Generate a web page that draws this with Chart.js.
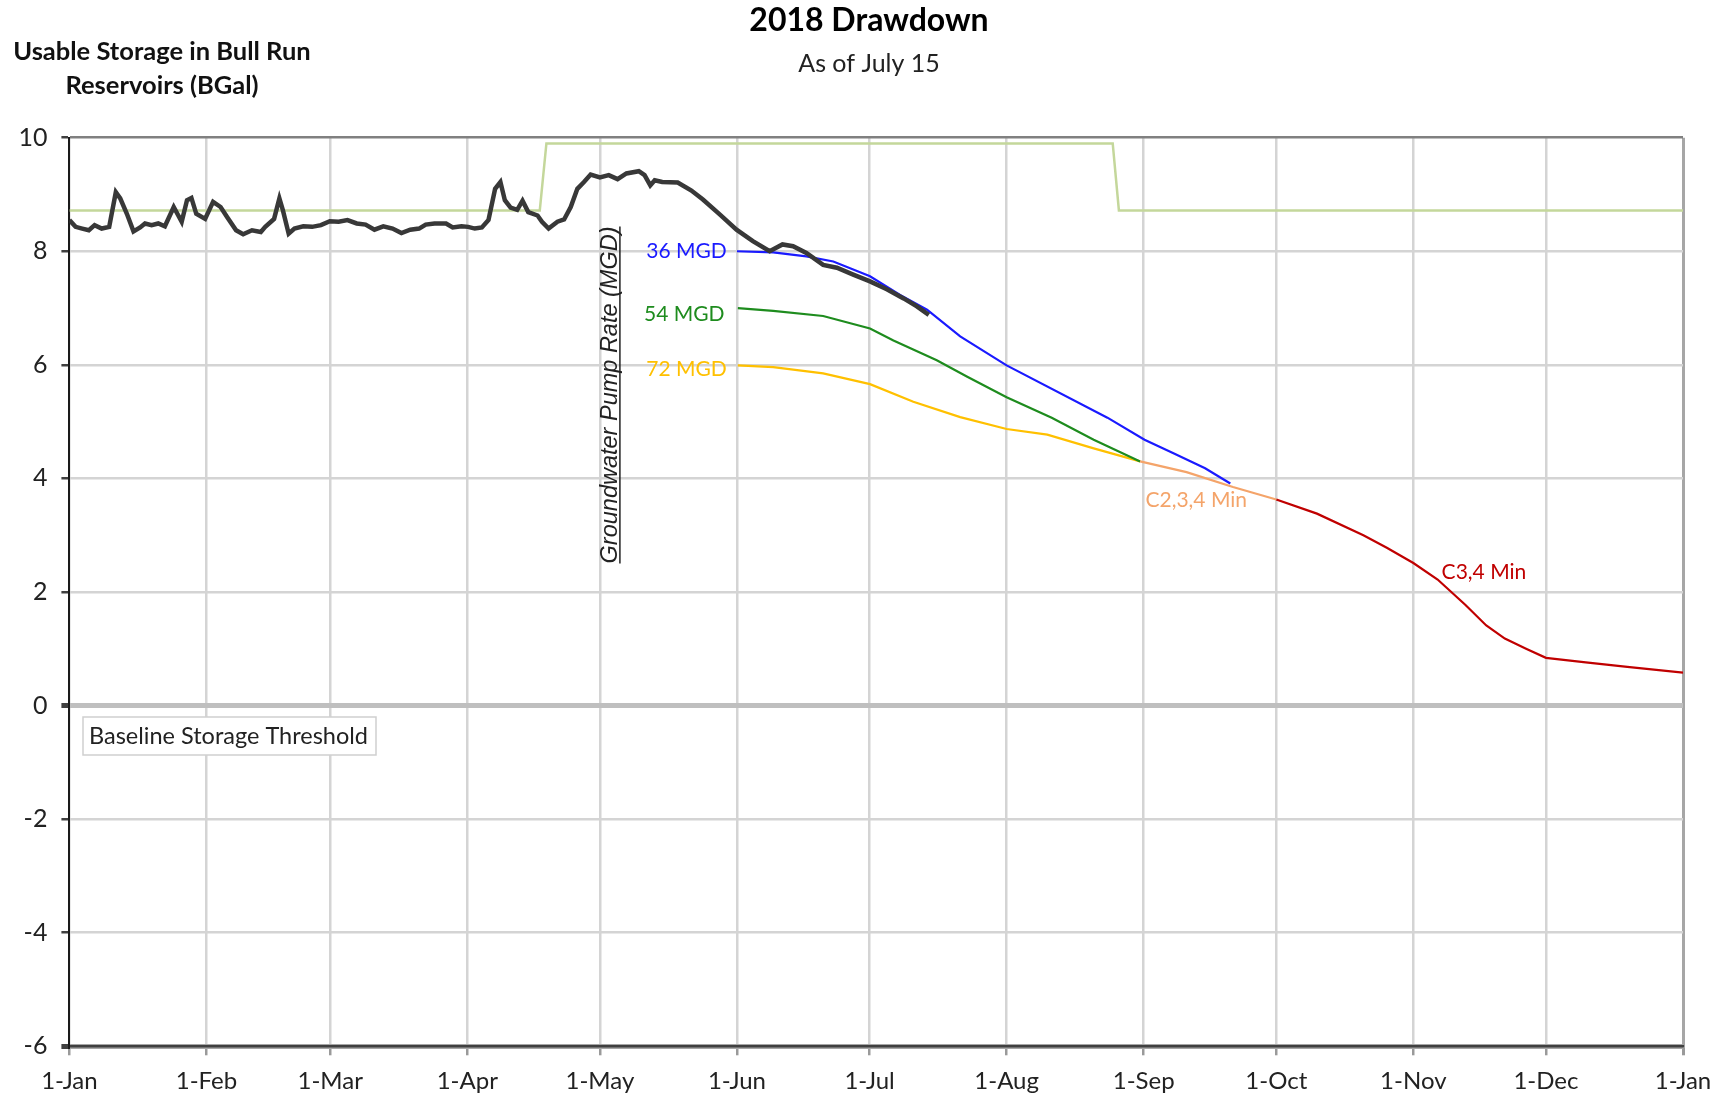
<!DOCTYPE html>
<html lang="en">
<head>
    <meta charset="UTF-8">
    <title>2018 Drawdown</title>
    <script src="https://cdn.jsdelivr.net/npm/chart.js"></script>
    <style>
        html, body { margin: 0; padding: 0; background: #fff; }
    </style>
</head>
<body>
    <canvas id="chart" width="1727" height="1100"></canvas>

    <script>
        // x axis: day of year 2018, ticks at the first of each month
        const monthDays = [0, 31, 59, 90, 120, 151, 181, 212, 243, 273, 304, 334, 365];
        const monthLabels = ['1-Jan', '1-Feb', '1-Mar', '1-Apr', '1-May', '1-Jun', '1-Jul',
                             '1-Aug', '1-Sep', '1-Oct', '1-Nov', '1-Dec', '1-Jan'];
        const yTicks = [-6, -4, -2, 0, 2, 4, 6, 8, 10];

        // Baseline storage threshold (BGal)
        const thresholdDays = [0, 106.4, 107.9, 236, 237.4, 365];
        const thresholdValues = [8.72, 8.72, 9.9, 9.9, 8.72, 8.72];

        // Actual usable storage up to July 15
        const observedDays = [0, 1.4, 2.9, 4.4, 5.7, 7.3, 9.0, 10.5, 11.5, 13.0, 14.5, 16.0, 17.1, 18.6, 20.1,
            21.6, 23.6, 25.4, 26.6, 27.6, 28.7, 30.7, 32.5, 34.2, 35.7, 37.7, 39.3, 41.3, 43.3, 44.3,
            46.3, 47.5, 48.3, 49.6, 50.9, 52.9, 54.9, 56.9, 58.9, 60.9, 62.9, 65.0, 67.0, 69.0, 71.0,
            73.1, 75.1, 77.1, 79.1, 80.6, 82.6, 85.2, 86.7, 88.7, 90.2, 91.7, 93.3, 94.8, 96.3, 97.5,
            98.5, 99.8, 101.3, 102.5, 103.8, 105.9, 106.9, 108.4, 110.4, 111.9, 113.4, 114.9, 116.4,
            117.9, 120.0, 122.0, 124.0, 126.0, 128.8, 130.1, 131.4, 132.4, 134.1, 137.6, 140.7, 143.3,
            147.1, 150.9, 154.6, 158.4, 161.3, 163.7, 166.7, 170.5, 173.6, 177.3, 181.1, 184.9, 188.7,
            191.7, 194.4];
        const observedValues = [8.55, 8.43, 8.40, 8.37, 8.46, 8.40, 8.43, 9.04, 8.93, 8.66, 8.35, 8.42, 8.49, 8.46, 8.49,
            8.44, 8.78, 8.52, 8.90, 8.94, 8.66, 8.57, 8.87, 8.78, 8.60, 8.37, 8.30, 8.37, 8.34, 8.43,
            8.57, 8.93, 8.72, 8.31, 8.40, 8.44, 8.43, 8.46, 8.53, 8.52, 8.55, 8.49, 8.47, 8.38, 8.44,
            8.40, 8.32, 8.38, 8.40, 8.47, 8.49, 8.49, 8.42, 8.44, 8.43, 8.40, 8.42, 8.55, 9.10, 9.22,
            8.90, 8.77, 8.73, 8.89, 8.69, 8.63, 8.52, 8.40, 8.52, 8.56, 8.78, 9.10, 9.22,
            9.35, 9.30, 9.34, 9.27, 9.37, 9.41, 9.34, 9.16, 9.25, 9.22, 9.21, 9.07, 8.91,
            8.65, 8.38, 8.18, 8.00, 8.12, 8.09, 7.97, 7.76, 7.71, 7.59, 7.47, 7.33, 7.17,
            7.03, 6.88];

        // Projections by groundwater pump rate
        const pump36Days = [151, 159.2, 166.7, 172.8, 181.1, 187.9, 194, 201.5, 212, 234.8, 243.2, 249.5, 256.9, 262.6];
        const pump36Values = [8.0, 7.98, 7.91, 7.82, 7.56, 7.23, 6.97, 6.50, 5.99, 5.07, 4.68, 4.45, 4.18, 3.91];

        const pump54Days = [151.2, 159.2, 170.5, 181.1, 186.4, 196.2, 203.1, 212, 222.2, 231.7, 242.2];
        const pump54Values = [7.0, 6.95, 6.86, 6.64, 6.43, 6.08, 5.79, 5.43, 5.07, 4.68, 4.30];

        const pump72Days = [151.2, 159.2, 170.5, 181.1, 190.9, 201.5, 212, 221.2, 231.7, 242.2];
        const pump72Values = [5.99, 5.96, 5.85, 5.66, 5.35, 5.08, 4.87, 4.77, 4.53, 4.30];

        const c234Days = [242.2, 252.7, 263.2, 273];
        const c234Values = [4.30, 4.11, 3.85, 3.63];

        const c34Days = [273, 282.2, 292.7, 298, 304, 309.5, 315.8, 320.5, 324.7, 329.5, 334, 343, 352.4, 365];
        const c34Values = [3.63, 3.38, 3.0, 2.78, 2.51, 2.22, 1.77, 1.41, 1.18, 1.0, 0.84, 0.76, 0.68, 0.58];

        const FONT = 'Lato, "Open Sans", sans-serif';

        function points(days, values) {
            return days.map((d, i) => ({ x: d, y: values[i] }));
        }

        function series(days, values, color, width) {
            return {
                data: points(days, values),
                borderColor: color,
                borderWidth: width,
                pointRadius: 0,
                tension: 0,
                fill: false
            };
        }

        // text on the chart: titles, line labels, the threshold box
        const notesPlugin = {
            id: 'notes',
            afterDraw(chart) {
                const ctx = chart.ctx;
                const x = chart.scales.x;
                const y = chart.scales.y;
                ctx.save();

                ctx.textAlign = 'center';
                ctx.textBaseline = 'middle';
                ctx.fillStyle = '#000';
                ctx.font = 'bold 32px ' + FONT;
                ctx.fillText('2018 Drawdown', 869, 21);
                ctx.fillStyle = '#222';
                ctx.font = '25px ' + FONT;
                ctx.fillText('As of July 15', 869, 64);

                ctx.fillStyle = '#111';
                ctx.font = 'bold 25.5px ' + FONT;
                ctx.fillText('Usable Storage in Bull Run', 162, 52);
                ctx.fillText('Reservoirs (BGal)', 162, 86);

                // series labels
                ctx.font = '21px ' + FONT;
                ctx.textAlign = 'right';
                ctx.fillStyle = '#1a1aff';
                ctx.fillText('36 MGD', x.getPixelForValue(148.7), y.getPixelForValue(8.0));
                ctx.fillStyle = '#1e8c1e';
                ctx.fillText('54 MGD', x.getPixelForValue(148.2), y.getPixelForValue(6.89));
                ctx.fillStyle = '#ffc000';
                ctx.fillText('72 MGD', x.getPixelForValue(148.7), y.getPixelForValue(5.92));
                ctx.textAlign = 'left';
                ctx.fillStyle = '#f4a46a';
                ctx.fillText('C2,3,4 Min', x.getPixelForValue(243.4), y.getPixelForValue(3.62));
                ctx.fillStyle = '#c00000';
                ctx.fillText('C3,4 Min', x.getPixelForValue(310.4), y.getPixelForValue(2.35));

                // rotated pump-rate label, underlined
                const rx = x.getPixelForValue(124.3);
                const ry = y.getPixelForValue(5.47);
                ctx.translate(rx, ry);
                ctx.rotate(-Math.PI / 2);
                ctx.font = 'italic 23.5px "Liberation Sans", Arial, sans-serif';
                ctx.fillStyle = '#222';
                ctx.textAlign = 'center';
                ctx.textBaseline = 'alphabetic';
                const label = 'Groundwater Pump Rate (MGD)';
                const w = ctx.measureText(label).width;
                ctx.fillText(label, 0, -2);
                ctx.strokeStyle = '#222';
                ctx.lineWidth = 1.5;
                ctx.beginPath();
                ctx.moveTo(-w / 2, 1);
                ctx.lineTo(w / 2, 1);
                ctx.stroke();
                ctx.setTransform(1, 0, 0, 1, 0, 0);

                // threshold legend box
                ctx.fillStyle = '#fff';
                ctx.fillRect(83, 717, 293, 38);
                ctx.strokeStyle = '#cfcfcf';
                ctx.lineWidth = 1.5;
                ctx.strokeRect(83, 717, 293, 38);
                ctx.fillStyle = '#222';
                ctx.font = '23.5px ' + FONT;
                ctx.textAlign = 'left';
                ctx.textBaseline = 'middle';
                ctx.fillText('Baseline Storage Threshold', 89, 736);

                ctx.restore();
            }
        };

        const ctx = document.getElementById('chart').getContext('2d');
        new Chart(ctx, {
            type: 'line',
            data: {
                datasets: [
                    series(observedDays, observedValues, '#383838', 4.5),
                    series(c234Days, c234Values, '#f4a46a', 2.2),
                    series(pump36Days, pump36Values, '#1a1aff', 2.2),
                    series(pump54Days, pump54Values, '#1e8c1e', 2.2),
                    series(pump72Days, pump72Values, '#ffc000', 2.2),
                    series(c34Days, c34Values, '#c00000', 2.2),
                    series(thresholdDays, thresholdValues, '#c4d79b', 2.5)
                ]
            },
            options: {
                responsive: false,
                animation: false,
                layout: { padding: { top: 137.7, right: 44, left: 0, bottom: 0 } },
                plugins: {
                    legend: { display: false },
                    tooltip: { enabled: false },
                    title: { display: false }
                },
                scales: {
                    x: {
                        type: 'linear',
                        min: 0,
                        max: 365,
                        afterBuildTicks: s => { s.ticks = monthDays.map(v => ({ value: v })); },
                        afterFit: s => { s.height = 53.7; },
                        ticks: {
                            callback: (v, i) => monthLabels[i],
                            autoSkip: false,
                            maxRotation: 0,
                            padding: 12,
                            color: '#222',
                            font: { family: FONT, size: 24 }
                        },
                        grid: {
                            color: c => (c.tick && c.tick.value === 365) ? '#a6a6a6' : '#d4d4d4',
                            lineWidth: c => (c.tick && c.tick.value === 365) ? 3 : 2.5,
                            tickLength: 9,
                            tickColor: '#9a9a9a'
                        },
                        border: { color: '#404040', width: 2.5 }
                    },
                    y: {
                        min: -6,
                        max: 10,
                        afterBuildTicks: s => { s.ticks = yTicks.map(v => ({ value: v })); },
                        afterFit: s => { s.width = 69.4; },
                        ticks: {
                            padding: 14,
                            color: '#222',
                            font: { family: FONT, size: 25 }
                        },
                        grid: {
                            color: c => {
                                const v = c.tick ? c.tick.value : null;
                                if (v === 0) return '#bfbfbf';
                                if (v === 10) return '#808080';
                                if (v === -6) return '#a6a6a6';
                                return '#d4d4d4';
                            },
                            lineWidth: c => {
                                const v = c.tick ? c.tick.value : null;
                                if (v === 0 || v === -6) return 5;
                                return 2.5;
                            },
                            tickLength: 8,
                            tickColor: '#404040'
                        },
                        border: { color: '#1a1a1a', width: 2 }
                    }
                }
            },
            plugins: [notesPlugin]
        });
    </script>
</body>
</html>
